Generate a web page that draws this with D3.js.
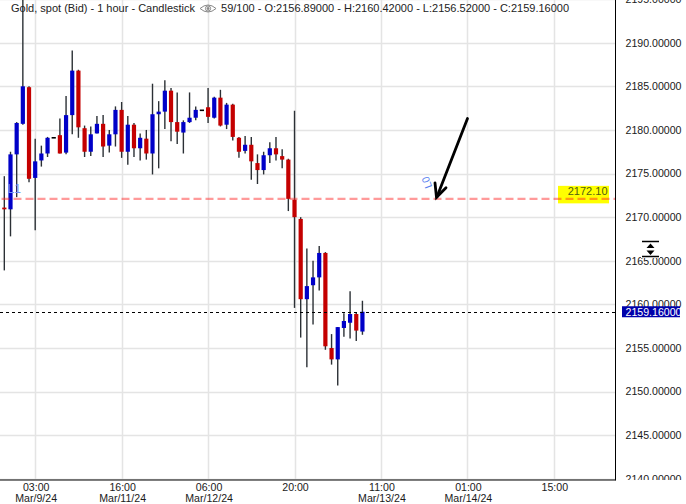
<!DOCTYPE html>
<html><head><meta charset="utf-8">
<script src="https://cdn.jsdelivr.net/npm/d3@7/dist/d3.min.js"></script>
<style>
html,body{margin:0;padding:0;background:#fff;}
svg{display:block;font-family:"Liberation Sans",Arial,sans-serif;}
</style></head>
<body><svg id="c" width="686" height="504"></svg>
<script>
// ---- data (1-hour candles, Gold spot Bid) ----
const opens  = [2171.1,2170.9,2177.2,2180.7,2184.9,2174.5,2176.5,2177.3,2179.1,2179.4,2177.4,2181.7,2186.8,2180.2,2177.5,2179.6,2180.7,2178.2,2179.5,2182.3,2177.5,2180.6,2177.9,2179.0,2177.3,2181.8,2182.1,2184.5,2180.9,2179.7,2180.9,2181.4,2182.25,2182.6,2181.4,2183.7,2180.6,2182.9,2179.1,2177.6,2178.3,2176.2,2175.4,2177.1,2177.9,2177.0,2176.6,2172.0,2169.8,2160.6,2162.2,2163.1,2165.9,2155.0,2153.7,2157.3,2157.9,2158.9,2156.89];
const highs  = [2174.7,2177.5,2180.9,2196.5,2185.0,2179.0,2178.2,2179.2,2179.1,2181.3,2183.9,2189.1,2186.9,2180.5,2180.4,2181.6,2181.7,2180.0,2182.7,2183.2,2181.6,2180.8,2179.6,2180.0,2185.3,2183.3,2185.7,2184.8,2184.3,2181.1,2184.3,2182.7,2182.25,2184.8,2183.8,2184.6,2183.1,2183.0,2179.2,2179.3,2179.2,2177.2,2177.5,2178.6,2179.2,2177.8,2176.7,2182.2,2170.0,2166.4,2165.0,2166.7,2166.0,2156.6,2157.4,2159.0,2161.5,2159.1,2160.42];
const lows   = [2163.9,2167.8,2172.3,2180.6,2174.0,2168.5,2175.8,2176.9,2179.1,2177.3,2177.2,2179.5,2179.1,2176.9,2177.0,2179.6,2176.9,2177.4,2178.1,2176.8,2176.0,2176.9,2176.5,2176.6,2174.9,2175.6,2180.1,2178.7,2178.4,2177.3,2180.8,2181.1,2182.25,2180.8,2181.3,2180.4,2180.1,2178.8,2176.8,2177.3,2174.3,2173.8,2174.9,2176.2,2176.5,2175.6,2170.7,2159.6,2156.2,2152.8,2157.7,2161.6,2154.8,2153.1,2150.7,2156.3,2156.1,2155.8,2156.52];
const closes = [2170.9,2177.2,2180.8,2185.0,2174.4,2176.4,2177.3,2179.1,2179.1,2177.3,2181.7,2186.8,2180.3,2177.5,2179.5,2180.7,2178.1,2179.5,2182.3,2177.5,2180.6,2177.9,2179.1,2177.3,2181.8,2182.1,2184.5,2180.9,2179.8,2180.9,2181.4,2182.3,2182.25,2181.5,2183.7,2180.5,2182.9,2179.2,2177.5,2178.3,2176.4,2175.4,2177.1,2177.9,2177.2,2176.6,2172.1,2170.0,2160.6,2162.1,2163.1,2165.9,2155.2,2153.7,2157.4,2158.1,2158.9,2157.0,2159.16];
const priceTicks = [2140,2145,2150,2155,2160,2165,2170,2175,2180,2185,2190,2195];
const timeTickIdx = [5,19,33,47,61,75,89];
const timeTickTop = ["03:00","16:00","06:00","20:00","11:00","01:00","15:00"];
const timeTickBot = ["Mar/9/24","Mar/11/24","Mar/12/24","","Mar/13/24","Mar/14/24",""];
const levelPrice = 2172.10;
const levelLabel = "2172.10";
const lastPrice = 2159.16;
const titleText = "Gold, spot (Bid) - 1 hour - Candlestick";
const infoText = "59/100 - O:2156.89000 - H:2160.42000 - L:2156.52000 - C:2159.16000";

// ---- layout ----
const svg = d3.select("#c");
const plotR = 615.5, axisY = 480;
const x = d3.scaleLinear().domain([-0.7, 99.02]).range([0, 615.7]);
const y = d3.scaleLinear().domain([2140, 2190]).range([478.9, 42.7]);

svg.append("defs").append("clipPath").attr("id","plot")
  .append("rect").attr("x",0).attr("y",0).attr("width",plotR).attr("height",axisY);
svg.append("defs").append("clipPath").attr("id","yax")
  .append("rect").attr("x",plotR).attr("y",0).attr("width",80).attr("height",axisY);

const plot = svg.append("g").attr("clip-path","url(#plot)");

// grid
plot.append("g").selectAll("line").data(priceTicks).join("line")
  .attr("x1",0).attr("x2",plotR)
  .attr("y1",d=>Math.round(y(d))+0.5).attr("y2",d=>Math.round(y(d))+0.5)
  .attr("stroke","#e4e4e4").attr("stroke-width",1.5);
plot.append("g").selectAll("line").data(timeTickIdx).join("line")
  .attr("x1",d=>Math.round(x(d))+0.5).attr("x2",d=>Math.round(x(d))+0.5)
  .attr("y1",0).attr("y2",axisY)
  .attr("stroke","#e4e4e4").attr("stroke-width",1.5);

// candles
const idx = d3.range(opens.length);
plot.append("g").selectAll("line").data(idx.filter(i=>opens[i]!==closes[i])).join("line")
  .attr("x1",i=>x(i)).attr("x2",i=>x(i))
  .attr("y1",i=>y(highs[i])).attr("y2",i=>y(lows[i]))
  .attr("stroke","#2b3035").attr("stroke-width",1.4);
const bw = 4.2;
plot.append("g").selectAll("rect").data(idx.filter(i=>opens[i]!==closes[i])).join("rect")
  .attr("x",i=>x(i)-bw/2).attr("width",bw)
  .attr("y",i=>y(Math.max(opens[i],closes[i])))
  .attr("height",i=>Math.max(1,Math.abs(y(opens[i])-y(closes[i]))))
  .attr("fill",i=>closes[i]>opens[i]?"#0000c8":"#c40000");
plot.append("g").selectAll("line").data(idx.filter(i=>opens[i]===closes[i])).join("line")
  .attr("x1",i=>x(i)-bw/2).attr("x2",i=>x(i)+bw/2)
  .attr("y1",i=>y(closes[i])).attr("y2",i=>y(closes[i]))
  .attr("stroke","#000").attr("stroke-width",1.6);

// level label box (under the dashed line)
const ly = y(levelPrice);
plot.append("rect").attr("x",558).attr("y",ly-13).attr("width",51).attr("height",17.5).attr("fill","#ffff00");
plot.append("text").attr("x",607.5).attr("y",ly-4).attr("text-anchor","end")
  .attr("font-size","11px").attr("fill","#4e5e12").text(levelLabel);

// dashed level line
plot.append("line").attr("x1",1.5).attr("x2",plotR).attr("y1",ly).attr("y2",ly)
  .attr("stroke","#ff2020").attr("stroke-opacity",0.45).attr("stroke-width",2.2)
  .attr("stroke-dasharray","8,4");
// last price line
const lp = Math.round(y(lastPrice))+0.5;
plot.append("line").attr("x1",0).attr("x2",plotR).attr("y1",lp).attr("y2",lp)
  .attr("stroke","#000").attr("stroke-width",1).attr("stroke-dasharray","3,3");

// L1 / L0 labels
plot.append("text").attr("x",7.5).attr("y",192.5).attr("font-size","12px")
  .attr("fill","#6f8ff5").text("L1");
plot.append("text").attr("transform",`translate(${x(69.3)},${ly-12}) rotate(-110)`)
  .attr("font-size","10.5px").attr("fill","#5a80f0").text("L0");

// arrow
const ah = plot.append("g").attr("stroke","#000").attr("stroke-width",2.8).attr("fill","none")
  .attr("stroke-linecap","round");
ah.append("line").attr("x1",467.5).attr("y1",118.5).attr("x2",437).attr("y2",ly-2);
ah.append("polyline").attr("points",`435,${ly-16} 436.5,${ly-1.5} 446,${ly-11}`);

// axes lines
svg.append("line").attr("x1",plotR).attr("x2",plotR).attr("y1",0).attr("y2",axisY+0.5)
  .attr("stroke","#000").attr("stroke-width",1);
svg.append("line").attr("x1",0).attr("x2",plotR).attr("y1",axisY).attr("y2",axisY)
  .attr("stroke","#000").attr("stroke-width",1.2);

// y labels
svg.append("g").attr("clip-path","url(#yax)").selectAll("text").data(priceTicks).join("text")
  .attr("x",625.5).attr("y",d=>y(d)).attr("dy","0.36em")
  .attr("font-size","10.6px").attr("fill","#1a1a1a").text(d=>d.toFixed(5));

// scale icon
const ic = svg.append("g");
ic.append("rect").attr("x",641).attr("y",240).attr("width",19).attr("height",18).attr("fill","#fff");
ic.append("line").attr("x1",642).attr("x2",659).attr("y1",241.5).attr("y2",241.5).attr("stroke","#000").attr("stroke-width",1.5);
ic.append("line").attr("x1",642).attr("x2",659).attr("y1",256.5).attr("y2",256.5).attr("stroke","#000").attr("stroke-width",1.5);
ic.append("path").attr("d","M650.5,243.5 L654.5,248 L646.5,248 Z M646.5,250.5 L654.5,250.5 L650.5,255 Z").attr("fill","#000");

// last price box
svg.append("rect").attr("x",622).attr("y",y(lastPrice)-5.5).attr("width",58).attr("height",11).attr("fill","#0000aa");
svg.append("text").attr("x",625.5).attr("y",y(lastPrice)).attr("dy","0.36em")
  .attr("font-size","10.6px").attr("fill","#fff").text(lastPrice.toFixed(5));

// x labels
const xl = svg.append("g").attr("font-size","10.6px").attr("fill","#1a1a1a").attr("text-anchor","middle");
timeTickIdx.forEach((t,k)=>{
  xl.append("text").attr("x",x(t)+1).attr("y",491).text(timeTickTop[k]);
  if(timeTickBot[k]) xl.append("text").attr("x",x(t)+1).attr("y",502).text(timeTickBot[k]);
});

// header
const t1 = svg.append("text").attr("x",11).attr("y",12.3).attr("font-size","11px").attr("fill","#222").text(titleText);
const w1 = t1.node().getComputedTextLength();
const ex = 11 + w1 + 13;
const eye = svg.append("g").attr("fill","none").attr("stroke","#888").attr("stroke-width",1);
eye.append("path").attr("d",`M${ex-8},8.5 Q${ex},1.5 ${ex+8},8.5 Q${ex},15.5 ${ex-8},8.5 Z`);
eye.append("circle").attr("cx",ex).attr("cy",8.5).attr("r",2.6);
eye.append("circle").attr("cx",ex).attr("cy",8.5).attr("r",1).attr("fill","#888");
svg.append("text").attr("x",ex+13).attr("y",12.3).attr("font-size","11px").attr("fill","#222").text(infoText);
</script></body></html>
